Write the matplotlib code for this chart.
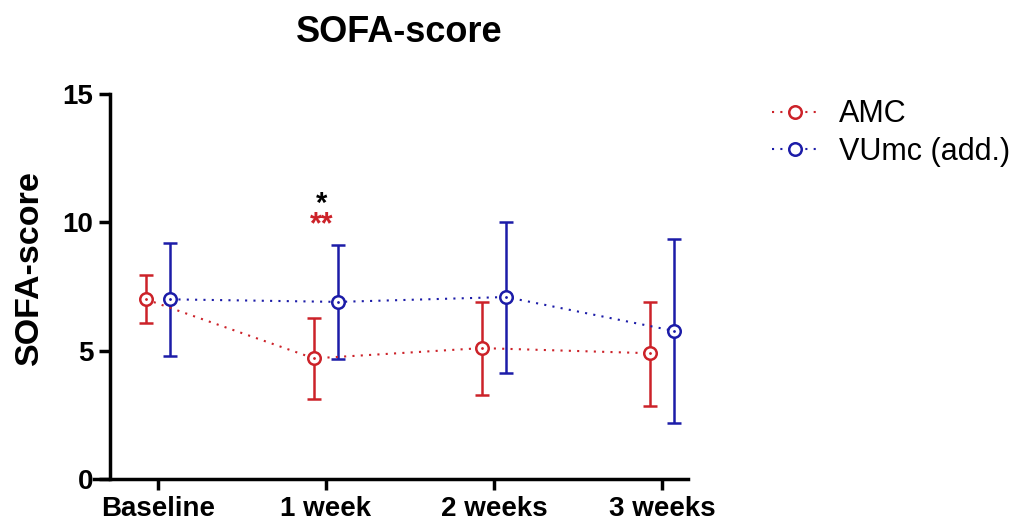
import matplotlib
matplotlib.use("Agg")
import matplotlib.pyplot as plt
import numpy as np

plt.rcParams['font.family'] = ['Liberation Sans', 'DejaVu Sans']

categories = ["Baseline", "1 week", "2 weeks", "3 weeks"]
amc_mean = [7.0, 4.7, 5.1, 4.9]
amc_low = [6.08, 3.12, 3.27, 2.84]
amc_high = [7.95, 6.27, 6.9, 6.9]
vumc_mean = [7.0, 6.9, 7.09, 5.77]
vumc_low = [4.79, 4.67, 4.13, 2.18]
vumc_high = [9.19, 9.12, 10.0, 9.35]

red = "#CC2229"
blue = "#1C1CA8"

fig = plt.figure(figsize=(10.19, 5.29), dpi=100)
ax = fig.add_axes([94/1019, 1-479/529, (688-94)/1019, (479-94)/529])

for s in ['top', 'right']:
    ax.spines[s].set_visible(False)
ax.spines['left'].set_position(('data', -0.286))
ax.spines['left'].set_linewidth(2.5)
ax.spines['bottom'].set_linewidth(2.5)

x = np.arange(len(categories))
off = 0.072

def draw(xs, mean, low, high, color, label):
    mean = np.array(mean); low = np.array(low); high = np.array(high)
    ax.errorbar(xs, mean, yerr=[mean-low, high-mean], fmt='none', ecolor=color,
                elinewidth=1.8, capsize=5, capthick=1.8, zorder=3)
    ax.plot(xs, mean, linestyle=(0, (1, 3)), color=color, linewidth=1.5,
            marker='o', markersize=9, markerfacecolor='white',
            markeredgecolor=color, markeredgewidth=1.8, label=label, zorder=4)
    ax.plot(xs, mean, linestyle='none', marker='.', markersize=2, color=color, zorder=5)

draw(x - off, amc_mean, amc_low, amc_high, red, "AMC")
draw(x + off, vumc_mean, vumc_low, vumc_high, blue, "VUmc (add.)")

ax.set_xlim(-0.381, 3.155)
ax.set_ylim(0, 15)
ax.set_xticks(x)
ax.set_xticklabels(categories)
ax.set_yticks([0, 5, 10, 15])
ax.set_yticklabels(["0", "5", "10", "15"])
ax.tick_params(axis='both', width=2.5, length=8, pad=4, labelsize=20)
for lab in ax.get_xticklabels() + ax.get_yticklabels():
    lab.set_fontweight('bold')
ax.set_ylabel("SOFA-score", fontsize=24.5, fontweight='bold')
ax.yaxis.set_label_coords(-0.083, 0.548)

ax.text(0.976, 10.7, "*", color='black', fontsize=21, fontweight='bold', ha='center', va='center')
ax.text(0.976, 9.9, "**", color=red, fontsize=22, fontweight='bold', ha='center', va='center')

fig.text(399/1019, 1-33/529, "SOFA-score", fontsize=26, fontweight='bold', ha='center', va='center')

leg = fig.legend(loc='upper left', bbox_to_anchor=(751/1019, 1-78/529), frameon=False,
                 fontsize=22, handlelength=1.45, handletextpad=0.72, labelspacing=0.25,
                 borderpad=0.2)

fig.savefig("out.png", dpi=100)
